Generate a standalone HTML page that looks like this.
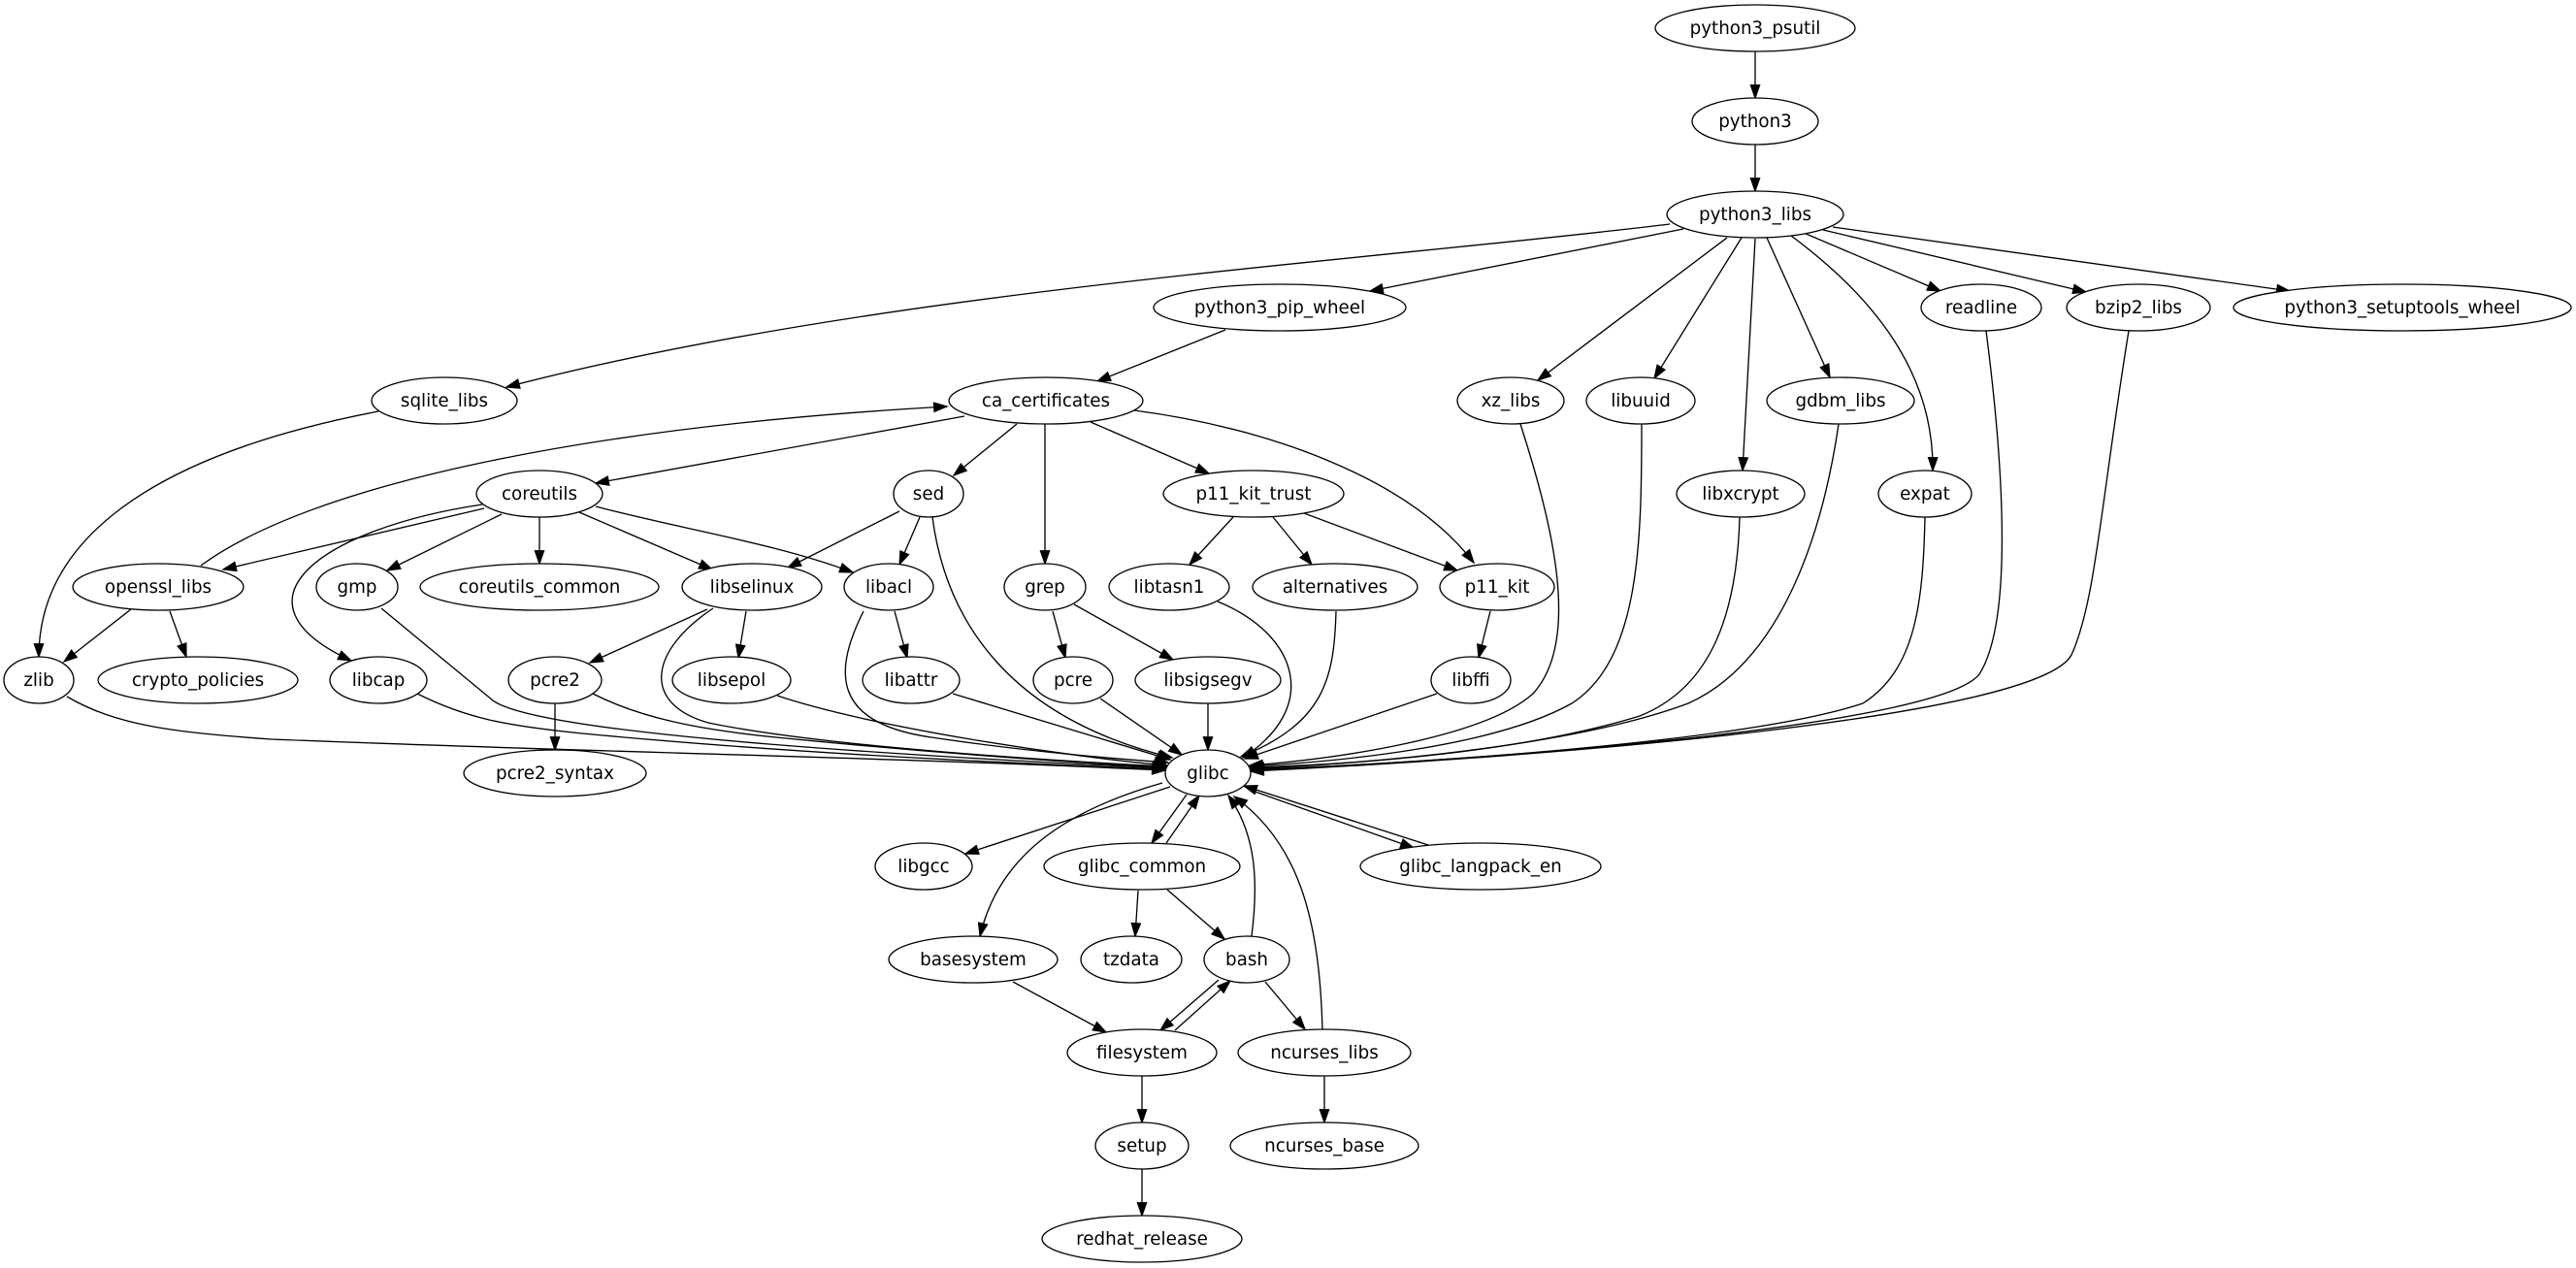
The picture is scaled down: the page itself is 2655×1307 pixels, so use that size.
<!DOCTYPE html>
<html><head><meta charset="utf-8"><style>
html,body{margin:0;padding:0;background:#fff;}
svg{display:block;}
text{font-family:"DejaVu Sans","Liberation Sans",sans-serif;font-size:18.3px;fill:#000;text-anchor:middle;}
</style></head><body>
<svg width="2655" height="1307" viewBox="0 0 2655 1307" xmlns="http://www.w3.org/2000/svg">
<defs>
<marker id="a" markerUnits="userSpaceOnUse" markerWidth="16" markerHeight="12" refX="13.3" refY="4.67" orient="auto" overflow="visible">
<path d="M0,0 L13.3,4.67 L0,9.33 z" fill="#000" stroke="#000" stroke-width="1.2"/>
</marker>
</defs>
<rect width="2655" height="1307" fill="#fff"/>
<g fill="none" stroke="#000" stroke-width="1.33" marker-end="url(#a)">
<path d="M1809,53 L1809,101"/>
<path d="M1809,149 L1809,197"/>
<path d="M1721,231 C1400,270 900,300 522,399"/>
<path d="M1735,236 L1412,300"/>
<path d="M1780,245 L1585,392"/>
<path d="M1795,245 L1705,390"/>
<path d="M1809,246 L1796,485"/>
<path d="M1821,245 L1886,389"/>
<path d="M1846,243 C1950,320 1993,400 1992,485"/>
<path d="M1859,240 L2000,300"/>
<path d="M1879,237 L2150,301"/>
<path d="M1889,234 L2360,300"/>
<path d="M1263,340 L1131,393"/>
<path d="M390,424 C150,470 40,560 40,677"/>
<path d="M994,429 L614,498"/>
<path d="M1048,437 L983,490"/>
<path d="M1077,437 L1077,581"/>
<path d="M1124,435 L1246,488"/>
<path d="M1169,423 C1300,440 1450,490 1519,580"/>
<path d="M207,583 C320,500 600,440 976,419"/>
<path d="M499,524 L230,587"/>
<path d="M517,530 L399,588"/>
<path d="M556,533 L556,581"/>
<path d="M597,528 L734,587"/>
<path d="M614,522 C700,545 800,560 879,590"/>
<path d="M497,520 C330,545 230,620 362,681"/>
<path d="M927,527 L812,585"/>
<path d="M948,533 L927,582"/>
<path d="M961,533 C975,640 1040,740 1208,781"/>
<path d="M1271,533 L1226,582"/>
<path d="M1312,533 L1352,582"/>
<path d="M1344,529 L1502,588"/>
<path d="M135,628 L66,682"/>
<path d="M175,630 L192,677"/>
<path d="M393,627 L508,722 C560,760 1000,782 1201,792"/>
<path d="M729,628 L608,683"/>
<path d="M769,630 L761,678"/>
<path d="M735,627 C670,670 660,725 730,745 C850,770 1100,785 1202,790"/>
<path d="M922,630 L935,678"/>
<path d="M890,630 C860,690 855,745 960,760 C1060,775 1150,782 1204,786"/>
<path d="M1085,630 L1098,678"/>
<path d="M1107,623 L1209,680"/>
<path d="M1255,620 C1340,655 1360,730 1281,781"/>
<path d="M1377,630 C1375,700 1365,745 1279,780"/>
<path d="M1536,630 L1524,678"/>
<path d="M69,718 C120,748 180,755 280,762 C600,775 900,780 1201,794"/>
<path d="M430,715 C480,740 520,748 600,756 C800,775 1000,785 1201,793"/>
<path d="M572,725 L572,773"/>
<path d="M611,715 C660,740 720,752 800,760 C950,775 1100,786 1202,791"/>
<path d="M801,717 C900,750 1100,780 1203,789"/>
<path d="M982,715 L1206,783"/>
<path d="M1134,720 L1218,778"/>
<path d="M1245,725 L1245,773"/>
<path d="M1481,715 L1283,782"/>
<path d="M1567,437 C1600,540 1630,660 1580,715 C1530,760 1380,782 1288,789"/>
<path d="M1692,437 C1692,560 1690,680 1620,725 C1540,770 1380,785 1288,790"/>
<path d="M1793,533 C1790,640 1760,710 1690,738 C1570,775 1400,788 1289,791"/>
<path d="M1895,437 C1880,540 1840,680 1740,725 C1620,770 1400,788 1289,792"/>
<path d="M1984,533 C1982,620 1975,690 1920,725 C1800,765 1450,788 1289,793"/>
<path d="M2047,341 C2065,480 2075,640 2040,695 C2000,745 1600,780 1289,794"/>
<path d="M2194,341 C2165,520 2160,620 2135,675 C2100,740 1600,780 1289,795"/>
<path d="M1206,811 L995,880"/>
<path d="M1223,819 L1187,869"/>
<path d="M1202,869 L1236,820"/>
<path d="M1288,814 L1457,874"/>
<path d="M1472,871 L1282,810"/>
<path d="M1198,807 C1100,835 1030,880 1010,965"/>
<path d="M1173,918 L1170,965"/>
<path d="M1203,917 L1262,968"/>
<path d="M1290,965 C1297,910 1295,860 1266,820"/>
<path d="M1363,1062 C1360,950 1340,870 1272,821"/>
<path d="M1044,1012 L1140,1064"/>
<path d="M1256,1010 L1196,1062"/>
<path d="M1211,1062 L1268,1011"/>
<path d="M1304,1012 L1345,1061"/>
<path d="M1177,1109 L1177,1157"/>
<path d="M1365,1109 L1365,1157"/>
<path d="M1177,1205 L1177,1253"/>
</g>
<g fill="#fff" stroke="#000" stroke-width="1.33">
<ellipse cx="1809" cy="29" rx="103" ry="24"/>
<ellipse cx="1809" cy="125" rx="65" ry="24"/>
<ellipse cx="1809" cy="221" rx="91" ry="24"/>
<ellipse cx="1319" cy="317" rx="130" ry="24"/>
<ellipse cx="2042" cy="317" rx="62" ry="24"/>
<ellipse cx="2204" cy="317" rx="74" ry="24"/>
<ellipse cx="2476" cy="317" rx="174" ry="24"/>
<ellipse cx="458" cy="413" rx="75" ry="24"/>
<ellipse cx="1078" cy="413" rx="100" ry="24"/>
<ellipse cx="1557" cy="413" rx="55" ry="24"/>
<ellipse cx="1691" cy="413" rx="56" ry="24"/>
<ellipse cx="1897" cy="413" rx="76" ry="24"/>
<ellipse cx="556" cy="509" rx="65" ry="24"/>
<ellipse cx="957" cy="509" rx="36" ry="24"/>
<ellipse cx="1292" cy="509" rx="93" ry="24"/>
<ellipse cx="1794" cy="509" rx="66" ry="24"/>
<ellipse cx="1984" cy="509" rx="48" ry="24"/>
<ellipse cx="163" cy="605" rx="88" ry="24"/>
<ellipse cx="368" cy="605" rx="42" ry="24"/>
<ellipse cx="556" cy="605" rx="123" ry="24"/>
<ellipse cx="775" cy="605" rx="72" ry="24"/>
<ellipse cx="916" cy="605" rx="46" ry="24"/>
<ellipse cx="1077" cy="605" rx="42" ry="24"/>
<ellipse cx="1205" cy="605" rx="62" ry="24"/>
<ellipse cx="1376" cy="605" rx="85" ry="24"/>
<ellipse cx="1543" cy="605" rx="59" ry="24"/>
<ellipse cx="40" cy="701" rx="36" ry="24"/>
<ellipse cx="204" cy="701" rx="103" ry="24"/>
<ellipse cx="390" cy="701" rx="50" ry="24"/>
<ellipse cx="572" cy="701" rx="48" ry="24"/>
<ellipse cx="754" cy="701" rx="61" ry="24"/>
<ellipse cx="939" cy="701" rx="50" ry="24"/>
<ellipse cx="1106" cy="701" rx="41" ry="24"/>
<ellipse cx="1245" cy="701" rx="75" ry="24"/>
<ellipse cx="1516" cy="701" rx="41" ry="24"/>
<ellipse cx="1245" cy="797" rx="44" ry="24"/>
<ellipse cx="572" cy="797" rx="94" ry="24"/>
<ellipse cx="952" cy="893" rx="50" ry="24"/>
<ellipse cx="1177" cy="893" rx="101" ry="24"/>
<ellipse cx="1526" cy="893" rx="124" ry="24"/>
<ellipse cx="1003" cy="989" rx="87" ry="24"/>
<ellipse cx="1166" cy="989" rx="52" ry="24"/>
<ellipse cx="1285" cy="989" rx="44" ry="24"/>
<ellipse cx="1177" cy="1085" rx="77" ry="24"/>
<ellipse cx="1365" cy="1085" rx="89" ry="24"/>
<ellipse cx="1177" cy="1181" rx="48" ry="24"/>
<ellipse cx="1365" cy="1181" rx="97" ry="24"/>
<ellipse cx="1177" cy="1277" rx="103" ry="24"/>
</g>
<g>
<text x="1809" y="35">python3_psutil</text>
<text x="1809" y="131">python3</text>
<text x="1809" y="227">python3_libs</text>
<text x="1319" y="323">python3_pip_wheel</text>
<text x="2042" y="323">readline</text>
<text x="2204" y="323">bzip2_libs</text>
<text x="2476" y="323">python3_setuptools_wheel</text>
<text x="458" y="419">sqlite_libs</text>
<text x="1078" y="419">ca_certificates</text>
<text x="1557" y="419">xz_libs</text>
<text x="1691" y="419">libuuid</text>
<text x="1897" y="419">gdbm_libs</text>
<text x="556" y="515">coreutils</text>
<text x="957" y="515">sed</text>
<text x="1292" y="515">p11_kit_trust</text>
<text x="1794" y="515">libxcrypt</text>
<text x="1984" y="515">expat</text>
<text x="163" y="611">openssl_libs</text>
<text x="368" y="611">gmp</text>
<text x="556" y="611">coreutils_common</text>
<text x="775" y="611">libselinux</text>
<text x="916" y="611">libacl</text>
<text x="1077" y="611">grep</text>
<text x="1205" y="611">libtasn1</text>
<text x="1376" y="611">alternatives</text>
<text x="1543" y="611">p11_kit</text>
<text x="40" y="707">zlib</text>
<text x="204" y="707">crypto_policies</text>
<text x="390" y="707">libcap</text>
<text x="572" y="707">pcre2</text>
<text x="754" y="707">libsepol</text>
<text x="939" y="707">libattr</text>
<text x="1106" y="707">pcre</text>
<text x="1245" y="707">libsigsegv</text>
<text x="1516" y="707">libffi</text>
<text x="1245" y="803">glibc</text>
<text x="572" y="803">pcre2_syntax</text>
<text x="952" y="899">libgcc</text>
<text x="1177" y="899">glibc_common</text>
<text x="1526" y="899">glibc_langpack_en</text>
<text x="1003" y="995">basesystem</text>
<text x="1166" y="995">tzdata</text>
<text x="1285" y="995">bash</text>
<text x="1177" y="1091">filesystem</text>
<text x="1365" y="1091">ncurses_libs</text>
<text x="1177" y="1187">setup</text>
<text x="1365" y="1187">ncurses_base</text>
<text x="1177" y="1283">redhat_release</text>
</g>
</svg>
</body></html>
